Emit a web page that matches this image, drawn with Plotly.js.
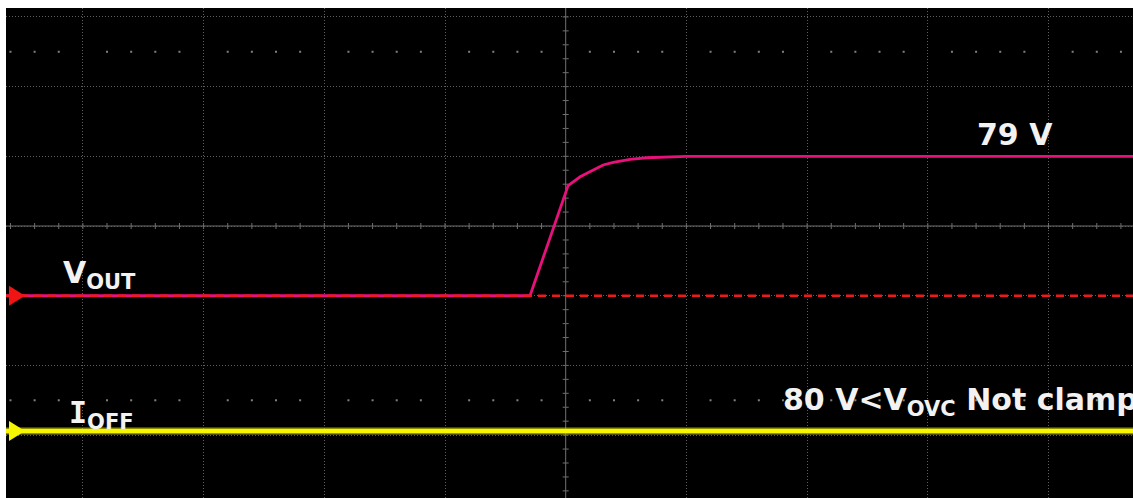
<!DOCTYPE html>
<html>
<head>
<meta charset="utf-8">
<script src="https://cdn.plot.ly/plotly-3.0.1.min.js"></script>
<style>
  html, body { margin: 0; padding: 0; background: #ffffff; }
  #scope { width: 1133px; height: 498px; }
</style>
</head>
<body>
<div id="scope"></div>
<script>
// Time base is expressed in screen divisions (0 = trigger point at centre).
const vout_t = [-4.7, -0.296, 0.02, 0.12, 0.20, 0.31, 0.394, 0.533, 0.67, 0.837, 1.0, 4.75];
// Output voltage in volts.
const vout_v = [0, 0, 62.4, 67.4, 70.3, 74.1, 75.6, 77.3, 78.2, 78.8, 79, 79];
// Off-state current (flat at its zero level over the whole record).
const ioff_t = [-4.7, 4.75];
const ioff_a = [0, 0];

// Channel labels and measurement notes.
const label_vout = 'V<sub>OUT</sub>';
const label_ioff = '<span style="font-family:\'DejaVu Sans Mono\'">I</span><sub>OFF</sub>';
const note_level = '79 V';
const note_clamp = '80 V&lt;V<sub>OVC</sub> Not clamp';

// Vertical scale / position of each channel on the graticule.
const VOUT_PER_DIV = 39.5;   // V per division
const VOUT_POS_DIV = -1.0;   // zero-volt level, divisions from centre
const IOFF_PER_DIV = 1.0;    // A per division
const IOFF_POS_DIV = -2.94;  // zero-amp level, divisions from centre

// Visible part of the graticule (divisions).
const X_RANGE = [-4.637, 4.700];
const Y_RANGE = [-3.902, 3.128];

function chanRange(perDiv, posDiv) {
  return [(Y_RANGE[0] - posDiv) * perDiv, (Y_RANGE[1] - posDiv) * perDiv];
}

const GRID = '#5e5e5e';
const AXIS = '#707070';
const TXT = '#f2f2f2';

const traces = [];

// Half-division dot rows of the graticule
const dotX = [], dotY = [];
for (let k = -23; k <= 23; k++) {
  if (k % 5 === 0) continue;
  dotX.push(k * 0.2, k * 0.2);
  dotY.push(2.5, -2.5);
}
traces.push({
  x: dotX, y: dotY, xaxis: 'x', yaxis: 'y', type: 'scatter', mode: 'markers',
  marker: {symbol: 'square', size: 2, color: '#808080', line: {width: 0}},
  hoverinfo: 'skip', showlegend: false
});

// Off-state current: soft halo plus bright core
traces.push({
  x: ioff_t, y: ioff_a, xaxis: 'x', yaxis: 'y3', type: 'scatter', mode: 'lines',
  line: {color: 'rgba(190,190,0,0.75)', width: 7}, hoverinfo: 'skip', showlegend: false
});
traces.push({
  x: ioff_t, y: ioff_a, xaxis: 'x', yaxis: 'y3', type: 'scatter', mode: 'lines',
  line: {color: '#f6f600', width: 4}, hoverinfo: 'skip', showlegend: false
});

// Output voltage
traces.push({
  x: vout_t, y: vout_v, xaxis: 'x', yaxis: 'y2', type: 'scatter', mode: 'lines',
  line: {color: '#e8107a', width: 2.8}, hoverinfo: 'skip', showlegend: false
});

// Zero-volt reference of the output channel
traces.push({
  x: [X_RANGE[0], X_RANGE[1]], y: [0, 0], xaxis: 'x', yaxis: 'y2', type: 'scatter', mode: 'lines',
  line: {color: '#ee1a1a', width: 2.6, dash: '8px,6px'}, hoverinfo: 'skip', showlegend: false
});

// Centre crosshair with minor ticks
const shapes = [
  {type: 'line', xref: 'paper', yref: 'y', x0: 0, x1: 1, y0: 0, y1: 0, layer: 'below',
   line: {color: AXIS, width: 1}},
  {type: 'line', xref: 'x', yref: 'paper', x0: 0, x1: 0, y0: 0, y1: 1, layer: 'below',
   line: {color: AXIS, width: 1}}
];
for (let k = -23; k <= 23; k++) {
  if (k === 0) continue;
  shapes.push({type: 'line', xref: 'x', yref: 'y', ysizemode: 'pixel', yanchor: 0,
    x0: k * 0.2, x1: k * 0.2, y0: -3, y1: 3, layer: 'below', line: {color: AXIS, width: 1}});
}
for (let k = -19; k <= 15; k++) {
  if (k === 0) continue;
  shapes.push({type: 'line', xref: 'x', yref: 'y', xsizemode: 'pixel', xanchor: 0,
    y0: k * 0.2, y1: k * 0.2, x0: -3, x1: 3, layer: 'below', line: {color: AXIS, width: 1}});
}

// Channel ground markers on the left edge
shapes.push({type: 'path', xref: 'paper', yref: 'y2', xsizemode: 'pixel', ysizemode: 'pixel',
  xanchor: 0, yanchor: 0, path: 'M3,-10 L19,0 L3,10 Z', fillcolor: '#f01414', line: {width: 0}, layer: 'above'});
shapes.push({type: 'path', xref: 'paper', yref: 'y3', xsizemode: 'pixel', ysizemode: 'pixel',
  xanchor: 0, yanchor: 0, path: 'M3,-10 L19,0 L3,10 Z', fillcolor: '#f6f600', line: {width: 0}, layer: 'above'});

const font = {family: 'DejaVu Sans, Verdana, sans-serif', size: 30, color: TXT, weight: 'bold'};
const annotations = [
  {text: label_vout, xref: 'x', yref: 'y', x: -4.18, y: -0.69, xanchor: 'left', yanchor: 'middle', showarrow: false, font: font},
  {text: label_ioff, xref: 'x', yref: 'y', x: -4.13, y: -2.71, xanchor: 'left', yanchor: 'middle', showarrow: false, font: font},
  {text: note_level, xref: 'x', yref: 'y', x: 3.39, y: 1.31, xanchor: 'left', yanchor: 'middle', showarrow: false, font: font},
  {text: note_clamp, xref: 'x', yref: 'y', x: 1.78, y: -2.52, xanchor: 'left', yanchor: 'middle', showarrow: false, font: font}
];

const hidden = {showgrid: false, zeroline: false, showticklabels: false, ticks: '', showline: false, fixedrange: true};

const layout = {
  width: 1133, height: 498,
  margin: {l: 6, r: 0, t: 8, b: 0, pad: 0},
  paper_bgcolor: '#ffffff',
  plot_bgcolor: '#000000',
  showlegend: false,
  xaxis: {range: X_RANGE, tick0: 0, dtick: 1, showgrid: true, gridcolor: GRID, gridwidth: 1,
    griddash: '1px,2px', zeroline: false, showticklabels: false, ticks: '', showline: false, fixedrange: true},
  yaxis: {range: Y_RANGE, tick0: 0, dtick: 1, showgrid: true, gridcolor: GRID, gridwidth: 1,
    griddash: '1px,2px', zeroline: false, showticklabels: false, ticks: '', showline: false, fixedrange: true},
  yaxis2: Object.assign({overlaying: 'y', range: chanRange(VOUT_PER_DIV, VOUT_POS_DIV)}, hidden),
  yaxis3: Object.assign({overlaying: 'y', range: chanRange(IOFF_PER_DIV, IOFF_POS_DIV)}, hidden),
  shapes: shapes,
  annotations: annotations
};

Plotly.newPlot('scope', traces, layout, {staticPlot: true, displayModeBar: false});
</script>
</body>
</html>
